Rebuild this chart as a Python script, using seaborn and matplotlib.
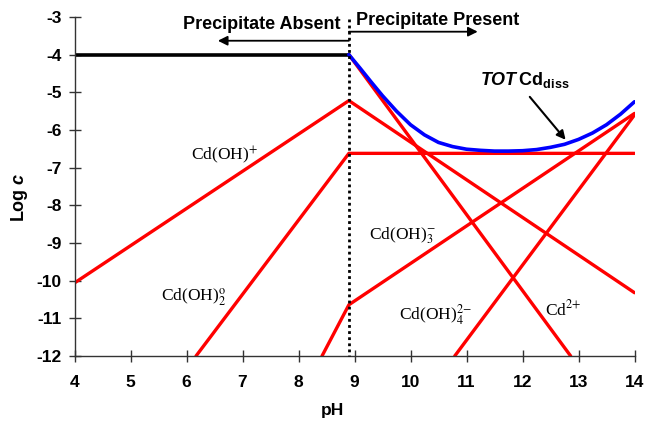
import matplotlib
matplotlib.use("Agg")
import matplotlib.pyplot as plt
import seaborn as sns
import pandas as pd

# ---------------- data ----------------
ph_boundary = 8.9

ph_free = [4.0, 8.9]
logc_free = [-4.0, -4.0]

ph_cd = [8.9, 12.86]
logc_cd = [-4.0, -12.0]

ph_cdoh = [4.0, 8.9, 14.0]
logc_cdoh = [-10.06, -5.22, -10.32]

ph_cdoh2 = [6.17, 8.9, 14.0]
logc_cdoh2 = [-12.0, -6.62, -6.62]

ph_cdoh3 = [8.42, 8.9, 14.0]
logc_cdoh3 = [-12.0, -10.64, -5.56]

ph_cdoh4 = [10.79, 14.0]
logc_cdoh4 = [-12.0, -5.6]

ph_tot = [8.9, 9.1, 9.3, 9.5, 9.75, 10.0, 10.25, 10.5, 10.75, 11.0, 11.25,
          11.5, 11.75, 12.0, 12.25, 12.5, 12.75, 13.0, 13.25, 13.5, 13.75, 14.0]
logc_tot = [-4.0, -4.36, -4.73, -5.09, -5.50, -5.86, -6.13, -6.33, -6.44, -6.51, -6.54,
            -6.56, -6.56, -6.55, -6.52, -6.46, -6.38, -6.25, -6.08, -5.86, -5.58, -5.25]

x_ticks = [4, 5, 6, 7, 8, 9, 10, 11, 12, 13, 14]
y_ticks = [-12, -11, -10, -9, -8, -7, -6, -5, -4, -3]

species_labels = [r"Cd(OH)$^{+}$", r"Cd(OH)$_{2}^{\mathrm{o}}$", r"Cd(OH)$_{3}^{-}$",
                  r"Cd(OH)$_{4}^{2\!-}$", r"Cd$^{2\!+}$"]
label_ph = [6.68, 6.13, 9.86, 10.45, 12.72]
label_logc = [-6.66, -10.45, -8.81, -10.9, -10.77]

# ---------------- style ----------------
sns.set_theme(style="white")
plt.rcParams["font.family"] = ["Liberation Sans", "DejaVu Sans"]
plt.rcParams["text.color"] = "black"
plt.rcParams["mathtext.fontset"] = "custom"
plt.rcParams["mathtext.rm"] = "Liberation Sans:bold"
plt.rcParams["mathtext.bf"] = "Liberation Sans:bold"
plt.rcParams["mathtext.it"] = "Liberation Sans:bold:italic"

fig = plt.figure(figsize=(6.48, 4.22), dpi=100)
ax = fig.add_axes([74.5 / 648, 1 - 356 / 422, 560 / 648, 339 / 422])

red = "#FF0000"
for xs, ys in [(ph_cdoh, logc_cdoh), (ph_cdoh2, logc_cdoh2), (ph_cdoh3, logc_cdoh3),
               (ph_cdoh4, logc_cdoh4), (ph_cd, logc_cd)]:
    sns.lineplot(x=xs, y=ys, ax=ax, color=red, lw=2.4, estimator=None, sort=False)

sns.lineplot(x=ph_free, y=logc_free, ax=ax, color="black", lw=2.6, estimator=None, sort=False)
sns.lineplot(x=ph_tot, y=logc_tot, ax=ax, color="#0000FF", lw=2.6, estimator=None, sort=False)

ax.plot([ph_boundary, ph_boundary], [-3.05, -12], color="black", lw=2.0,
        linestyle=(0, (1, 1.2)), clip_on=False, zorder=5)

ax.set_xlim(4, 14)
ax.set_ylim(-12, -3)
ax.set_xticks(x_ticks)
ax.set_yticks(y_ticks)
ax.set_xticklabels([str(v) for v in x_ticks], fontweight="bold", fontsize=12.5)
ax.set_yticklabels([str(v) for v in y_ticks], fontweight="bold", fontsize=12.5)
ax.tick_params(axis="x", bottom=True, direction="inout", length=8, width=1, color="#333333",
               pad=10, labelcolor="black")
ax.tick_params(axis="y", left=True, direction="inout", length=8.5, width=1, color="#333333",
               pad=5, labelcolor="black")
for s in ["top", "right"]:
    ax.spines[s].set_visible(False)
for s in ["left", "bottom"]:
    ax.spines[s].set_color("#333333")
    ax.spines[s].set_linewidth(1.0)
ax.set_xlabel("")
ax.set_ylabel("")

ax.text((332 - 74.5) / 560, (356 - 410) / 339, "pH", transform=ax.transAxes,
        ha="center", va="center", fontsize=12.5, fontweight="bold")
ax.text((20 - 74.5) / 560, (356 - 197) / 339, r"Log $\mathit{c}$", transform=ax.transAxes,
        rotation=90, ha="center", va="center", fontsize=13, fontweight="bold")

# species labels
for lab, px, py in zip(species_labels, label_ph, label_logc):
    ax.text(px, py, lab, ha="center", va="center", fontsize=12.5,
            fontfamily="Liberation Serif", math_fontfamily="stix")

# precipitate region arrows
arrow_kw = dict(arrowstyle="-|>", color="black", lw=1.3, mutation_scale=14, shrinkA=0, shrinkB=0)
ax.annotate("", xy=(6.56, -3.63), xytext=(ph_boundary, -3.63), arrowprops=arrow_kw,
            annotation_clip=False)
ax.annotate("", xy=(11.2, -3.39), xytext=(ph_boundary, -3.39), arrowprops=arrow_kw,
            annotation_clip=False)
ax.text(7.35, -3.21, "Precipitate Absent", ha="center", va="center", fontsize=13,
        fontweight="bold", clip_on=False)
ax.text(10.48, -3.08, "Precipitate Present", ha="center", va="center", fontsize=13,
        fontweight="bold", clip_on=False)

# TOT Cd_diss annotation
ax.annotate("", xy=(12.77, -6.26), xytext=(12.13, -5.12),
            arrowprops=dict(arrowstyle="-|>", color="black", lw=1.5, mutation_scale=13,
                            shrinkA=0, shrinkB=0))
ax.text(12.04, -4.68, r"$\mathit{TOT}\,\mathrm{Cd}_{\mathrm{diss}}$", ha="center", va="center",
        fontsize=13)

fig.savefig("out.png", dpi=100)
